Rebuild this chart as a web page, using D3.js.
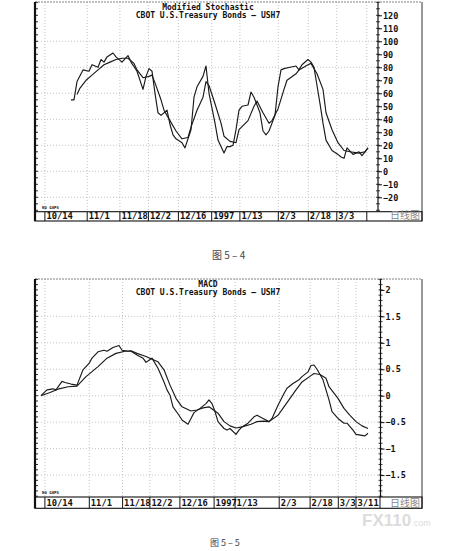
<!DOCTYPE html>
<html>
<head>
<meta charset="utf-8">
<script src="https://cdn.jsdelivr.net/npm/d3@7"></script>
<style>
  body { margin: 0; background: #fff; }
  svg { display: block; }
  .mono { font-family: "DejaVu Sans Mono", monospace; font-weight: bold; fill: #111; }
</style>
</head>
<body>
<script>
// ---- data (x = trading-day index from the left edge of the plot) ----
var stochDaysK = [12,13,14,16,18,19,21,22,23,24,26,27,29,31,32,34,36,37,38,39,40,41,42,44,45,46,47,49,50,52,53,54,56,57,58,60,61,63,64,65,66,67,68,69,71,72,73,75,76,77,78,80,81,82,83,85,87,88,89,91,92,93,94,95,96,97,99,101,102,103,104,106,107,108,109,110,111];
var stochK = [55,55,69,78,77,82,80,86,84,88,91,88,84,89,84,77,63,73,79,77,60,45,43,47,36,28,25,22,18,32,57,65,73,81,60,37,24,14,19,19,20,32,47,50,51,61,57,45,31,28,31,43,65,78,79,80,81,78,82,86,84,80,66,52,37,24,16,13,11,10,18,13,14,15,12,15,18];

var stochDaysD = [14,15,17,19,21,23,25,27,29,31,33,34,36,38,39,40,42,43,45,47,49,51,52,54,56,57,58,60,62,63,65,67,68,71,73,74,76,78,79,81,83,84,87,88,91,92,94,96,97,99,101,103,105,108,110,111];
var stochD = [59,64,70,74,78,82,84,86,87,87,83,78,72,73,74,68,55,47,39,31,25,26,34,47,57,69,66,52,37,27,23,22,32,39,50,54,45,37,39,48,63,70,75,78,82,83,75,63,45,32,22,16,15,14,15,18];

var macdDays = [2,4,6,7,9,10,12,14,16,18,19,21,23,24,26,28,29,31,32,34,36,37,38,39,41,43,44,45,46,48,49,51,52,53,55,57,58,59,60,61,63,64,65,67,68,69,71,73,74,76,78,79,81,83,84,86,88,89,91,92,93,94,96,98,99,101,103,104,106,107,108,110,111];
var macdLine = [0,0.11,0.13,0.11,0.27,0.25,0.22,0.20,0.49,0.61,0.71,0.83,0.86,0.84,0.91,0.95,0.86,0.84,0.84,0.77,0.71,0.63,0.67,0.71,0.52,0.26,0.11,0.01,-0.21,-0.37,-0.46,-0.54,-0.43,-0.32,-0.24,-0.15,-0.08,-0.15,-0.30,-0.49,-0.62,-0.65,-0.62,-0.73,-0.65,-0.59,-0.52,-0.40,-0.37,-0.43,-0.49,-0.43,-0.18,0.04,0.14,0.23,0.30,0.36,0.45,0.57,0.58,0.50,0.30,-0.08,-0.30,-0.43,-0.52,-0.52,-0.65,-0.73,-0.74,-0.76,-0.71];

var signalDays = [2,5,8,11,14,17,21,24,27,30,32,34,37,39,41,43,45,47,49,52,54,56,58,61,63,65,67,69,72,74,76,78,81,83,85,87,89,92,93,95,97,98,101,103,105,107,109,111];
var signalLine = [0,0.06,0.13,0.17,0.18,0.36,0.55,0.71,0.80,0.84,0.85,0.80,0.74,0.69,0.64,0.49,0.20,-0.05,-0.21,-0.29,-0.27,-0.23,-0.21,-0.33,-0.49,-0.57,-0.61,-0.59,-0.54,-0.49,-0.48,-0.49,-0.37,-0.21,-0.05,0.11,0.26,0.38,0.42,0.40,0.33,0.17,-0.05,-0.24,-0.37,-0.49,-0.57,-0.62];

var stochTickDays = [3.3,17.4,28.3,37.8,47.8,58.9,68.3,81.1,91.1,100.6,110.6];
var stochTickLabels = ["10/14","11/1","11/18","12/2","12/16","1997","1/13","2/3","2/18","3/3",""];
var macdTickDays = [3.3,18.1,29.2,38.3,48.3,59.7,66.7,81.4,91.7,101.1,107];
var macdTickLabels = ["10/14","11/1","11/18","12/2","12/16","1997","1/13","2/3","2/18","3/3","3/11"];

var stochYTicks = [120,110,100,90,80,70,60,50,40,30,20,10,0,-10,-20];
var macdYTicks = [2,1.5,1,0.5,0,-0.5,-1,-1.5];

var svg = d3.select("body").append("svg")
    .attr("width", 456)
    .attr("height", 551);

function drawPanel(p) {
    var g = svg.append("g");

    var x = d3.scaleLinear()
        .domain([0, (p.plotRight - p.left) / 3])
        .range([p.left, p.plotRight]);
    var y = d3.scaleLinear().domain(p.yDomain).range(p.yRange);

    // grid
    g.selectAll(".hgrid").data(p.gridValues).enter().append("line")
        .attr("x1", p.left).attr("x2", p.plotRight)
        .attr("y1", function (d) { return y(d); })
        .attr("y2", function (d) { return y(d); })
        .attr("stroke", "#aaa").attr("stroke-width", 0.7)
        .attr("stroke-dasharray", "1,2");
    g.selectAll(".vgrid").data(p.tickDays).enter().append("line")
        .attr("x1", function (d) { return x(d); })
        .attr("x2", function (d) { return x(d); })
        .attr("y1", p.top).attr("y2", p.plotBottom)
        .attr("stroke", "#aaa").attr("stroke-width", 0.7)
        .attr("stroke-dasharray", "1,2");

    // frame
    g.append("line").attr("x1", p.left).attr("x2", p.outerRight)
        .attr("y1", p.top).attr("y2", p.top)
        .attr("stroke", "#666").attr("stroke-width", 0.8).attr("stroke-dasharray", "2,1");
    g.append("line").attr("x1", p.outerRight).attr("x2", p.outerRight)
        .attr("y1", p.top).attr("y2", p.rowBottom)
        .attr("stroke", "#333").attr("stroke-width", 1);
    g.append("line").attr("x1", p.left).attr("x2", p.left)
        .attr("y1", p.top).attr("y2", p.rowBottom)
        .attr("stroke", "#111").attr("stroke-width", 2.2);
    g.append("line").attr("x1", p.plotRight).attr("x2", p.plotRight)
        .attr("y1", p.top).attr("y2", p.plotBottom)
        .attr("stroke", "#111").attr("stroke-width", 1.2);

    // ruler ticks on the left edge and minor ticks on the value axis
    var lo = y.invert(p.plotBottom), hi = y.invert(p.top);
    var minor = d3.range(Math.ceil(lo / p.minorStep) * p.minorStep, hi, p.minorStep);
    g.selectAll(".lruler").data(minor).enter().append("line")
        .attr("x1", p.left).attr("x2", p.left + 3)
        .attr("y1", function (d) { return y(d); })
        .attr("y2", function (d) { return y(d); })
        .attr("stroke", "#111").attr("stroke-width", 0.9);
    g.selectAll(".rminor").data(minor).enter().append("line")
        .attr("x1", p.plotRight - 2).attr("x2", p.plotRight + 2)
        .attr("y1", function (d) { return y(d); })
        .attr("y2", function (d) { return y(d); })
        .attr("stroke", "#111").attr("stroke-width", 0.8);

    var yAxis = d3.axisRight(y)
        .tickValues(p.yTicks)
        .tickSize(4)
        .tickPadding(1)
        .tickFormat(p.yFormat);
    var ya = g.append("g")
        .attr("transform", "translate(" + p.plotRight + ",0)")
        .call(yAxis);
    ya.select(".domain").remove();
    ya.selectAll("line").attr("stroke", "#111").attr("stroke-width", 1);
    ya.selectAll("text")
        .attr("class", "mono")
        .style("font-size", "8.5px");

    // date row
    g.append("rect")
        .attr("x", p.left).attr("y", p.plotBottom)
        .attr("width", p.outerRight - p.left)
        .attr("height", p.rowBottom - p.plotBottom)
        .attr("fill", "none").attr("stroke", "#111").attr("stroke-width", 1.1);
    g.selectAll(".sep").data(p.tickDays.concat(p.rowEnd ? [p.rowEnd] : [])).enter().append("line")
        .attr("x1", function (d) { return x(d); })
        .attr("x2", function (d) { return x(d); })
        .attr("y1", p.plotBottom).attr("y2", p.rowBottom)
        .attr("stroke", "#111").attr("stroke-width", 1);
    g.selectAll(".dlab").data(p.tickLabels).enter().append("text")
        .attr("class", "mono")
        .attr("x", function (d, i) { return x(p.tickDays[i]) + 1.5; })
        .attr("y", p.rowBottom - 2.3)
        .style("font-size", "8.8px")
        .text(function (d) { return d; });
    g.append("text")
        .attr("x", p.outerRight - 2).attr("y", p.rowBottom - 1.8)
        .attr("text-anchor", "end")
        .style("font-family", "'Noto Sans CJK SC', sans-serif")
        .style("font-size", "10px")
        .style("fill", "#888")
        .text("日线图");
    g.append("text")
        .attr("class", "mono")
        .attr("x", p.left + 7).attr("y", p.plotBottom - 3)
        .style("font-size", "4px")
        .text("NO GAPS");

    // titles
    p.titles.forEach(function (t, i) {
        g.append("text")
            .attr("class", "mono")
            .attr("x", 208).attr("y", p.top + 7.5 + i * 8.5)
            .attr("text-anchor", "middle")
            .style("font-size", "8px")
            .text(t);
    });

    // series
    var line = d3.line()
        .x(function (d) { return x(d[0]); })
        .y(function (d) { return y(d[1]); });
    p.series.forEach(function (s) {
        g.append("path")
            .datum(d3.zip(s[0], s[1]))
            .attr("d", line)
            .attr("fill", "none")
            .attr("stroke", "#1a1a1a")
            .attr("stroke-width", 1.15)
            .attr("stroke-linejoin", "round");
    });
}

var minusFmt = function (d) { return String(d).replace("-", "\u2212"); };

drawPanel({
    top: 2, left: 35, plotRight: 378, plotBottom: 211.7, rowBottom: 221, outerRight: 422,
    yDomain: [-20, 120], yRange: [197.3, 15.3],
    yTicks: stochYTicks, yFormat: minusFmt,
    gridValues: [100, 80, 60, 40, 20, 0, -20], minorStep: 5,
    tickDays: stochTickDays, tickLabels: stochTickLabels, rowEnd: null,
    titles: ["Modified Stochastic", "CBOT U.S.Treasury Bonds \u2014 USH7"],
    series: [[stochDaysK, stochK], [stochDaysD, stochD]]
});

drawPanel({
    top: 279, left: 35, plotRight: 380.5, plotBottom: 497, rowBottom: 508.3, outerRight: 422,
    yDomain: [-1.5, 2], yRange: [475.05, 289.9],
    yTicks: macdYTicks, yFormat: minusFmt,
    gridValues: [1.5, 1, 0.5, 0, -0.5, -1, -1.5], minorStep: 0.1,
    tickDays: macdTickDays, tickLabels: macdTickLabels, rowEnd: 115,
    titles: ["MACD", "CBOT U.S.Treasury Bonds \u2014 USH7"],
    series: [[macdDays, macdLine], [signalDays, signalLine]]
});

// captions and watermark
svg.append("text")
    .attr("x", 212).attr("y", 259)
    .style("font-family", "'Noto Sans CJK SC', sans-serif")
    .style("font-size", "10px").style("fill", "#444")
    .text("图 5 \u2013 4");
svg.append("text")
    .attr("x", 210).attr("y", 546)
    .style("font-family", "'Noto Sans CJK SC', sans-serif")
    .style("font-size", "9px").style("fill", "#444")
    .text("图 5 \u2013 5");
var wm = svg.append("text")
    .attr("x", 362).attr("y", 526)
    .style("font-family", "'Liberation Sans', Arial, sans-serif")
    .style("fill", "#dcdcdc");
wm.append("tspan").style("font-size", "17px").style("font-weight", "bold").text("FX110");
wm.append("tspan").style("font-size", "9px").text(".com");
</script>
</body>
</html>
